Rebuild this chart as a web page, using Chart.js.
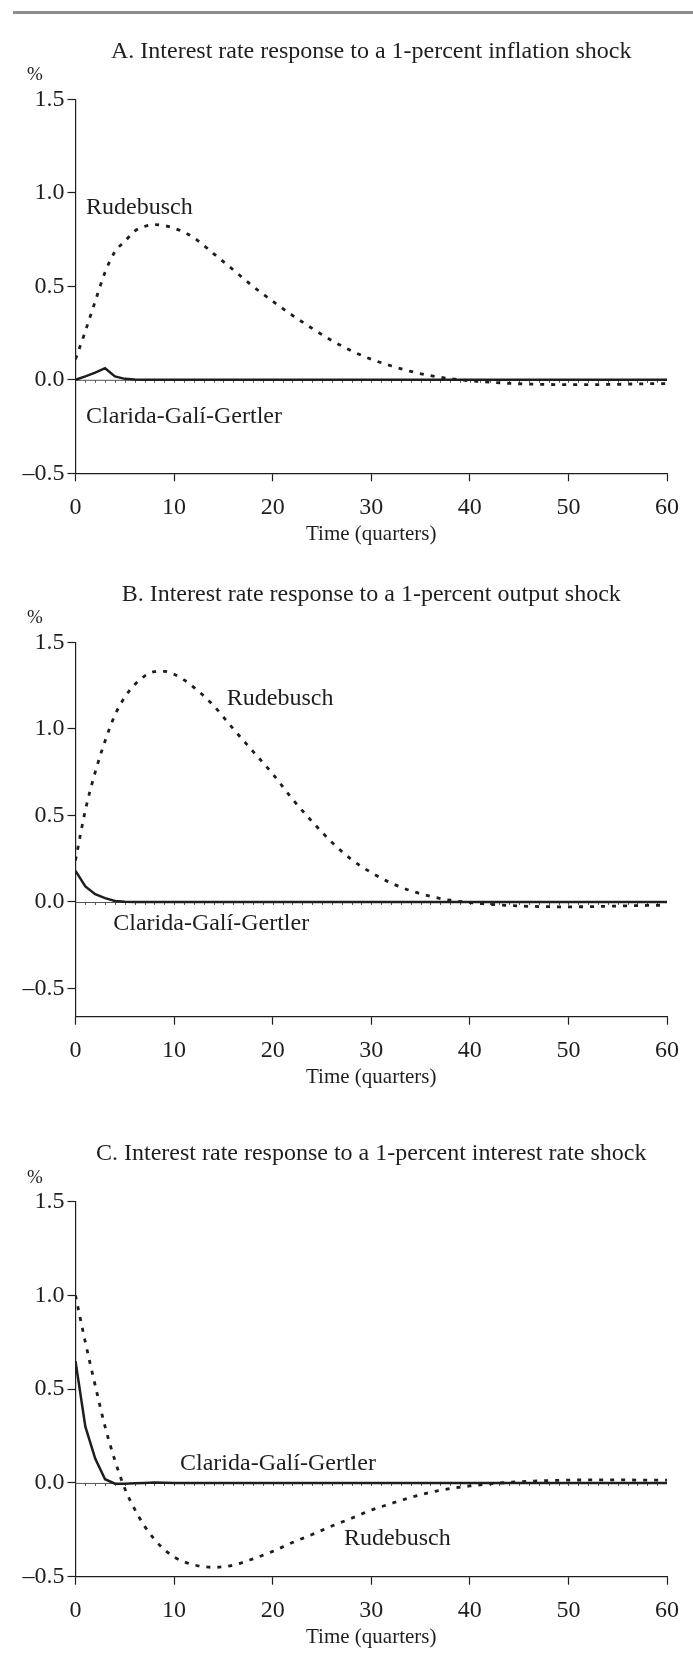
<!DOCTYPE html>
<html>
<head>
<meta charset="utf-8">
<script src="https://cdn.jsdelivr.net/npm/chart.js@4.4.1/dist/chart.umd.min.js"></script>
<style>
  html, body { margin: 0; padding: 0; background: #fff; }
  body { width: 693px; height: 1674px; position: relative; overflow: hidden; }
  .rule { position: absolute; left: 13px; top: 11px; width: 680px; height: 3px; background: #8c8c8c; }
  .panel { position: absolute; left: 0; width: 693px; }
</style>
</head>
<body>
<div class="rule"></div>
<div class="panel" style="top:0px;height:560px"><canvas id="cA"></canvas></div>
<div class="panel" style="top:560px;height:560px"><canvas id="cB"></canvas></div>
<div class="panel" style="top:1120px;height:554px"><canvas id="cC"></canvas></div>
<script>
// ---------------- data ----------------
const quarters = [0,1,2,3,4,5,6,7,8,9,10,11,12,14,16,18,20,22,24,26,28,30,32,34,36,38,40,42,44,46,48,50,52,54,56,58,60];

const rudebuschA = [0.11,0.26,0.42,0.575,0.685,0.74,0.795,0.82,0.83,0.825,0.81,0.79,0.76,0.675,0.588,0.5,0.42,0.345,0.275,0.21,0.155,0.11,0.075,0.045,0.022,0.006,-0.005,-0.013,-0.019,-0.023,-0.025,-0.026,-0.026,-0.025,-0.023,-0.021,-0.02];
const cggA       = [0,0.018,0.038,0.062,0.018,0.005,0.001,0,0,0,0,0,0,0,0,0,0,0,0,0,0,0,0,0,0,0,0,0,0,0,0,0,0,0,0,0,0];

const rudebuschB = [0.24,0.53,0.75,0.93,1.08,1.183,1.255,1.305,1.33,1.332,1.315,1.283,1.24,1.135,1.0,0.87,0.74,0.595,0.465,0.345,0.245,0.17,0.11,0.065,0.033,0.01,-0.003,-0.013,-0.02,-0.025,-0.027,-0.028,-0.027,-0.025,-0.022,-0.02,-0.018];
const cggB       = [0.18,0.09,0.045,0.022,0.006,0.001,0,0,0,0,0,0,0,0,0,0,0,0,0,0,0,0,0,0,0,0,0,0,0,0,0,0,0,0,0,0,0];

const rudebuschC = [1.0,0.75,0.52,0.30,0.12,-0.03,-0.14,-0.23,-0.30,-0.355,-0.395,-0.42,-0.437,-0.45,-0.438,-0.405,-0.365,-0.318,-0.275,-0.23,-0.188,-0.145,-0.11,-0.077,-0.05,-0.03,-0.016,-0.005,0.003,0.009,0.013,0.015,0.016,0.016,0.016,0.015,0.015];
const cggC       = [0.65,0.30,0.13,0.02,-0.004,-0.004,-0.002,0,0.003,0.001,0,0,0,0,0,0,0,0,0,0,0,0,0,0,0,0,0,0,0,0,0,0,0,0,0,0,0];

const xTicks = [0,10,20,30,40,50,60];
const yTicks = [-0.5,0,0.5,1.0,1.5];

const titles = [
  'A. Interest rate response to a 1-percent inflation shock',
  'B. Interest rate response to a 1-percent output shock',
  'C. Interest rate response to a 1-percent interest rate shock'
];
const seriesNames = ['Rudebusch', 'Clarida-Galí-Gertler'];
const xTitle = 'Time (quarters)';
const unitLabel = '%';

// ---------------- layout / style ----------------
const SERIF = "'Liberation Serif', 'Times New Roman', serif";
const INK = '#1e1e1e';
Chart.defaults.font.family = SERIF;
Chart.defaults.color = INK;

function fmt(v) {
  if (Math.abs(v) < 1e-9) return '0.0';
  return v < 0 ? '\u2013' + Math.abs(v).toFixed(1) : v.toFixed(1);
}

const decor = {
  id: 'decor',
  beforeDatasetsDraw(chart) {
    const { ctx, chartArea: ca, scales: { x, y } } = chart;
    const y0 = y.getPixelForValue(0);
    ctx.save();
    ctx.strokeStyle = '#555';
    ctx.lineWidth = 1;
    ctx.beginPath();
    ctx.moveTo(ca.left, y0 + 0.5);
    ctx.lineTo(ca.right, y0 + 0.5);
    for (let q = 1; q < 60; q++) {
      const px = Math.round(x.getPixelForValue(q)) + 0.5;
      ctx.moveTo(px, y0 + 0.5);
      ctx.lineTo(px, y0 + 3);
    }
    ctx.stroke();
    ctx.restore();
  },
  afterDraw(chart, args, opts) {
    const { ctx, chartArea: ca, scales: { x, y } } = chart;
    const cx = (ca.left + ca.right) / 2;
    ctx.save();
    ctx.fillStyle = INK;
    ctx.textBaseline = 'middle';
    ctx.textAlign = 'center';
    ctx.font = '24px ' + SERIF;
    ctx.fillText(opts.title, cx, ca.top - 47.5);
    ctx.font = '21px ' + SERIF;
    ctx.fillText(xTitle, cx, ca.bottom + 61);
    ctx.textAlign = 'left';
    ctx.font = '19px ' + SERIF;
    ctx.fillText(unitLabel, 27, ca.top - 24);
    ctx.font = '24px ' + SERIF;
    opts.notes.forEach(n => {
      ctx.fillText(n.text, x.getPixelForValue(n.q), y.getPixelForValue(n.v));
    });
    ctx.restore();
  }
};

function makeChart(id, rud, cgg, cfg) {
  const toPts = arr => quarters.map((q, i) => ({ x: q, y: arr[i] }));
  return new Chart(document.getElementById(id), {
    type: 'line',
    data: {
      datasets: [
        {
          label: seriesNames[0], data: toPts(rud),
          borderColor: INK, borderWidth: 2.8, borderDash: [4, 7],
          pointRadius: 0, cubicInterpolationMode: 'monotone', fill: false
        },
        {
          label: seriesNames[1], data: toPts(cgg),
          borderColor: INK, borderWidth: 2.5, tension: 0,
          pointRadius: 0, fill: false
        }
      ]
    },
    options: {
      responsive: true, maintainAspectRatio: false, animation: false,
      layout: { padding: { top: cfg.top, right: 26, bottom: 0, left: 0 } },
      plugins: {
        legend: { display: false }, tooltip: { enabled: false },
        decor: { title: cfg.title, notes: cfg.notes }
      },
      scales: {
        x: {
          type: 'linear', min: 0, max: 60,
          afterFit: s => { s.height = cfg.xh; },
          afterBuildTicks: s => { s.ticks = xTicks.map(v => ({ value: v })); },
          grid: { drawOnChartArea: false, drawTicks: true, tickLength: 8, tickColor: INK, tickWidth: 1.2 },
          border: { display: true, color: INK, width: 1.2 },
          ticks: { font: { size: 24 }, color: INK, padding: 12, maxRotation: 0 }
        },
        y: {
          type: 'linear', min: cfg.ymin, max: 1.5,
          afterFit: s => { s.width = 75.5; },
          afterBuildTicks: s => { s.ticks = yTicks.map(v => ({ value: v })); },
          grid: { drawOnChartArea: false, drawTicks: true, tickLength: 8, tickColor: INK, tickWidth: 1.2 },
          border: { display: true, color: INK, width: 1.2 },
          ticks: { font: { size: 24 }, color: INK, padding: 3, callback: v => fmt(v) }
        }
      }
    },
    plugins: [decor]
  });
}

makeChart('cA', rudebuschA, cggA, {
  title: titles[0], top: 99.3, xh: 560 - 473.3, ymin: -0.5,
  notes: [
    { text: seriesNames[0], q: 1.07, v: 0.921 },
    { text: seriesNames[1], q: 1.07, v: -0.196 }
  ]
});
makeChart('cB', rudebuschB, cggB, {
  title: titles[1], top: 82.3, xh: 560 - 456.7, ymin: -0.6626,
  notes: [
    { text: seriesNames[0], q: 15.34, v: 1.177 },
    { text: seriesNames[1], q: 3.83, v: -0.123 }
  ]
});
makeChart('cC', rudebuschC, cggC, {
  title: titles[2], top: 81.7, xh: 554 - 456.7, ymin: -0.5,
  notes: [
    { text: seriesNames[1], q: 10.6, v: 0.105 },
    { text: seriesNames[0], q: 27.24, v: -0.296 }
  ]
});
</script>
</body>
</html>
